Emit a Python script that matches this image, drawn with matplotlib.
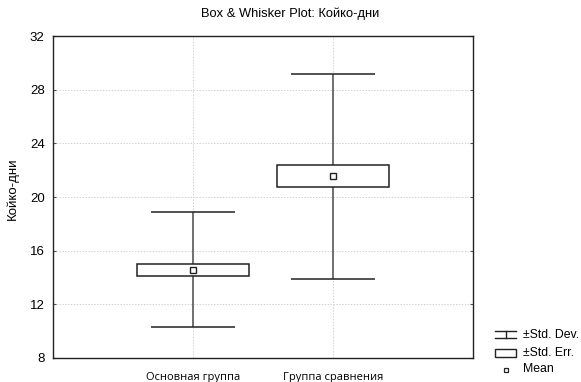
import matplotlib
matplotlib.use("Agg")
import matplotlib.pyplot as plt
from matplotlib.lines import Line2D
from matplotlib.patches import Rectangle

# Group statistics: mean, standard error, standard deviation
groups = ["Основная группа", "Группа сравнения"]
means = [14.58, 21.55]
std_errs = [0.46, 0.82]
std_devs = [4.28, 7.65]

y_ticks = [8, 12, 16, 20, 24, 28, 32]

plt.rcParams["font.family"] = ["Liberation Sans", "DejaVu Sans"]

W, H = 581, 382
fig = plt.figure(figsize=(W / 100, H / 100), dpi=100)
ax = fig.add_axes([53 / W, 1 - 358 / H, 420 / W, 322 / H])

positions = [1, 2]
box_w = 0.8
cap_w = 0.6

for x, m, se, sd in zip(positions, means, std_errs, std_devs):
    # whisker: mean ± SD
    ax.vlines(x, m - sd, m + sd, color="#707070", lw=1.4, zorder=2)
    ax.hlines([m - sd, m + sd], x - cap_w / 2, x + cap_w / 2,
              color="#222222", lw=1.1, zorder=3)
    # box: mean ± SE
    ax.add_patch(Rectangle((x - box_w / 2, m - se), box_w, 2 * se,
                           facecolor="white", edgecolor="#222222",
                           lw=1.1, zorder=4))
    # mean marker
    ax.plot(x, m, marker="s", ms=3.8, mfc="white", mec="#222222",
            mew=1.0, zorder=5)

ax.set_xlim(0, 3)
ax.set_ylim(8, 32)
ax.set_yticks(y_ticks)
ax.set_xticks(positions)
ax.set_xticklabels(groups, family=["Open Sans", "DejaVu Sans"], fontsize=8)
ax.tick_params(axis="y", labelsize=9.5, direction="in", length=2, pad=6,
               right=True, color="#555555")
ax.tick_params(axis="x", direction="in", length=0, pad=10)

ax.grid(True, color="#d2d2d2", linestyle=(0, (1.5, 1.5)), lw=0.7)
ax.set_axisbelow(True)
for s in ax.spines.values():
    s.set_linewidth(1.0)
    s.set_color("#222222")

ax.set_ylabel("Койко-дни", fontsize=9.5)
ax.yaxis.set_label_coords((19 - 53) / 420, (358 - 188.5) / 322)
fig.text(0.5, 1 - 14 / H, "Box & Whisker Plot: Койко-дни",
         ha="center", va="center", fontsize=9.3)

# legend key
lx0, lx1 = 495 / W, 516 / W
lxc = (lx0 + lx1) / 2
tx = 523 / W
rows = [1 - 334.5 / H, 1 - 352.5 / H, 1 - 369.5 / H]
# std dev symbol
dy = 3.5 / H
fig.add_artist(Line2D([lx0, lx1], [rows[0] + dy] * 2, color="#222222", lw=1.0))
fig.add_artist(Line2D([lx0, lx1], [rows[0] - dy] * 2, color="#222222", lw=1.0))
fig.add_artist(Line2D([lxc] * 2, [rows[0] - dy, rows[0] + dy],
                      color="#222222", lw=1.0))
# std err symbol
fig.add_artist(Rectangle((lx0, rows[1] - 4 / H), lx1 - lx0, 8 / H,
                         facecolor="white", edgecolor="#222222", lw=1.0,
                         transform=fig.transFigure))
# mean symbol
fig.add_artist(Line2D([lxc], [rows[2]], marker="s", ms=3.3,
                      mfc="white", mec="#222222", mew=0.9, linestyle="none"))
for r, t in zip(rows, ["±Std. Dev.", "±Std. Err.", "Mean"]):
    fig.text(tx, r, t, ha="left", va="center", fontsize=8.8)

fig.savefig("out.png", dpi=100)
